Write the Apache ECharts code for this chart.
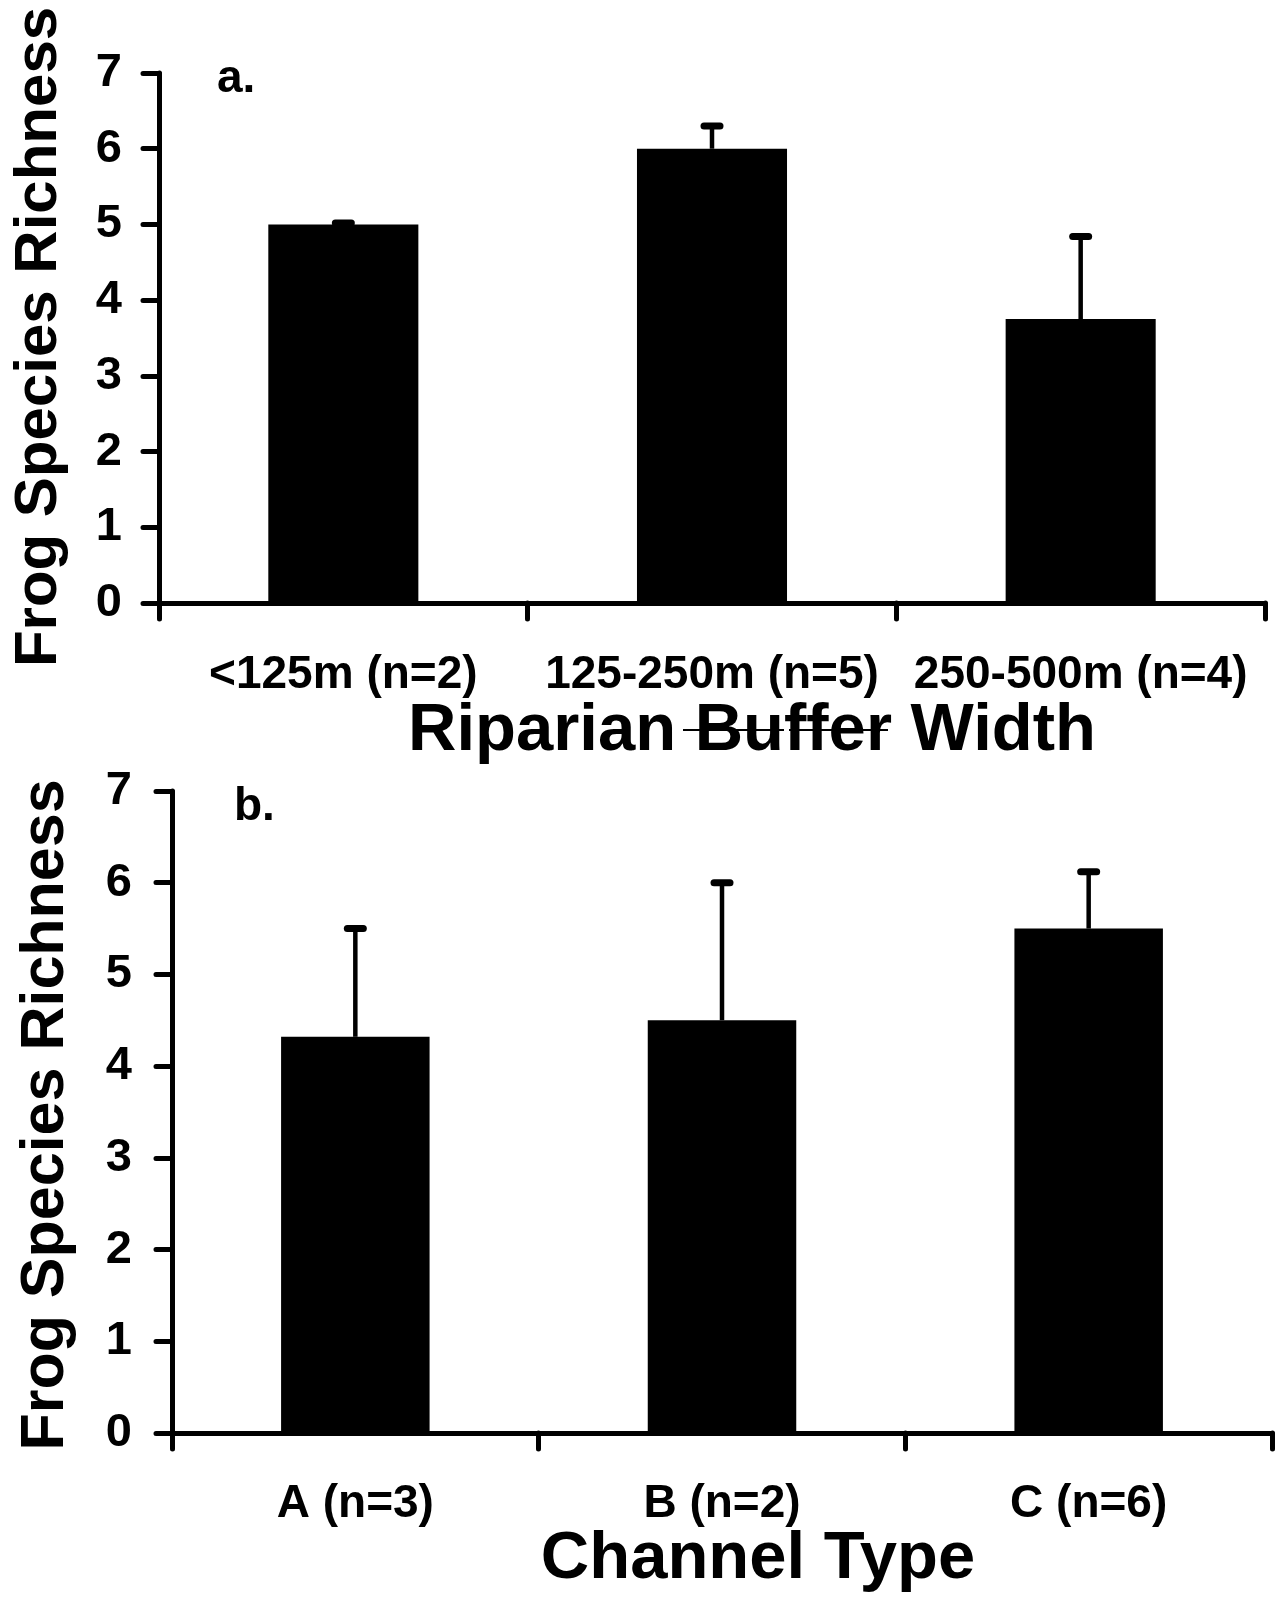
<!DOCTYPE html>
<html><head><meta charset="utf-8">
<script src="https://cdn.jsdelivr.net/npm/echarts@6/dist/echarts.min.js"></script>
<style>html,body{margin:0;padding:0;background:#fff}#c{width:1279px;height:1599px}</style>
</head><body><div id="c"></div>
<script>
// ---- data ----
const bufferCategories = ['<125m (n=2)', '125-250m (n=5)', '250-500m (n=4)'];
const bufferMeans = [5.0, 6.0, 3.75];
const bufferSE = [0.02, 0.3, 1.09];
const channelCategories = ['A (n=3)', 'B (n=2)', 'C (n=6)'];
const channelMeans = [4.32, 4.5, 5.5];
const channelSE = [1.18, 1.5, 0.62];
const yTicks = [0, 1, 2, 3, 4, 5, 6, 7];
const yTitle = 'Frog Species Richness';
const xTitleA = 'Riparian Buffer Width';
const xTitleB = 'Channel Type';
const panelA = 'a.';
const panelB = 'b.';

const FONT = '"Liberation Sans", Arial, sans-serif';
const chart = echarts.init(document.getElementById('c'), null, {renderer: 'canvas'});

function errData(means, se) { return means.map((m, i) => [i, m, se[i]]); }
function renderErr(params, api) {
  const x = api.value(0), m = api.value(1), s = api.value(2);
  const p0 = api.coord([x, m]);
  const p1 = api.coord([x, m + s]);
  return {type: 'group', children: [
    {type: 'line', shape: {x1: p0[0], y1: p0[1], x2: p1[0], y2: p1[1]}, style: {stroke: '#000', lineWidth: 4.5}},
    {type: 'line', shape: {x1: p1[0] - 8, y1: p1[1], x2: p1[0] + 8, y2: p1[1]}, style: {stroke: '#000', lineWidth: 7, lineCap: 'round'}}
  ]};
}
function xAxisCfg(cats, gi, margin) {
  return {
    type: 'category', gridIndex: gi, data: cats,
    axisLine: {show: true, lineStyle: {color: '#000', width: 5, cap: 'round'}},
    axisTick: {show: true, length: 16, lineStyle: {color: '#000', width: 5, cap: 'round'}},
    axisLabel: {color: '#000', fontSize: 46, fontWeight: 'bold', fontFamily: FONT, margin: margin, interval: 0},
    splitLine: {show: false}
  };
}
function yAxisCfg(gi, margin) {
  return {
    type: 'value', gridIndex: gi, min: yTicks[0], max: yTicks[yTicks.length - 1], interval: 1,
    axisLine: {show: true, lineStyle: {color: '#000', width: 5, cap: 'round'}},
    axisTick: {show: true, length: 16, lineStyle: {color: '#000', width: 5, cap: 'round'}},
    axisLabel: {color: '#000', fontSize: 47, fontWeight: 'bold', fontFamily: FONT, margin: margin},
    splitLine: {show: false}
  };
}
const textStyle = (txt, size) => ({text: txt, fill: '#000', font: 'bold ' + size + 'px ' + FONT, textAlign: 'center', textVerticalAlign: 'middle'});

chart.setOption({
  animation: false,
  backgroundColor: '#fff',
  grid: [
    {left: 159, right: 14, top: 73, height: 530},
    {left: 172, right: 7, top: 791, height: 642}
  ],
  xAxis: [xAxisCfg(bufferCategories, 0, 49), xAxisCfg(channelCategories, 1, 48)],
  yAxis: [yAxisCfg(0, 37), yAxisCfg(1, 40)],
  series: [
    {type: 'bar', xAxisIndex: 0, yAxisIndex: 0, data: bufferMeans, barCategoryGap: '59.3%', itemStyle: {color: '#000'}, z: 2},
    {type: 'custom', xAxisIndex: 0, yAxisIndex: 0, data: errData(bufferMeans, bufferSE), renderItem: renderErr, encode: {x: 0, y: 1}, z: 3},
    {type: 'bar', xAxisIndex: 1, yAxisIndex: 1, data: channelMeans, barCategoryGap: '59.5%', itemStyle: {color: '#000'}, z: 2},
    {type: 'custom', xAxisIndex: 1, yAxisIndex: 1, data: errData(channelMeans, channelSE), renderItem: renderErr, encode: {x: 0, y: 1}, z: 3}
  ],
  graphic: [
    {type: 'text', x: 39, y: 337, rotation: Math.PI / 2, style: textStyle(yTitle, 60)},
    {type: 'text', x: 46, y: 1115, rotation: Math.PI / 2, style: textStyle(yTitle, 61)},
    {type: 'text', x: 752, y: 732, style: textStyle(xTitleA, 67)},
    {type: 'text', x: 758, y: 1560, style: textStyle(xTitleB, 67)},
    {type: 'text', x: 217, y: 102, style: {text: panelA, fill: '#000', font: 'bold 46px ' + FONT, textAlign: 'left', textVerticalAlign: 'bottom'}},
    {type: 'text', x: 234, y: 830, style: {text: panelB, fill: '#000', font: 'bold 46px ' + FONT, textAlign: 'left', textVerticalAlign: 'bottom'}},
    {type: 'line', shape: {x1: 683, y1: 730, x2: 888, y2: 730}, style: {stroke: '#000', lineWidth: 2, lineDash: [48, 5]}, z: 10}
  ]
});
</script></body></html>
